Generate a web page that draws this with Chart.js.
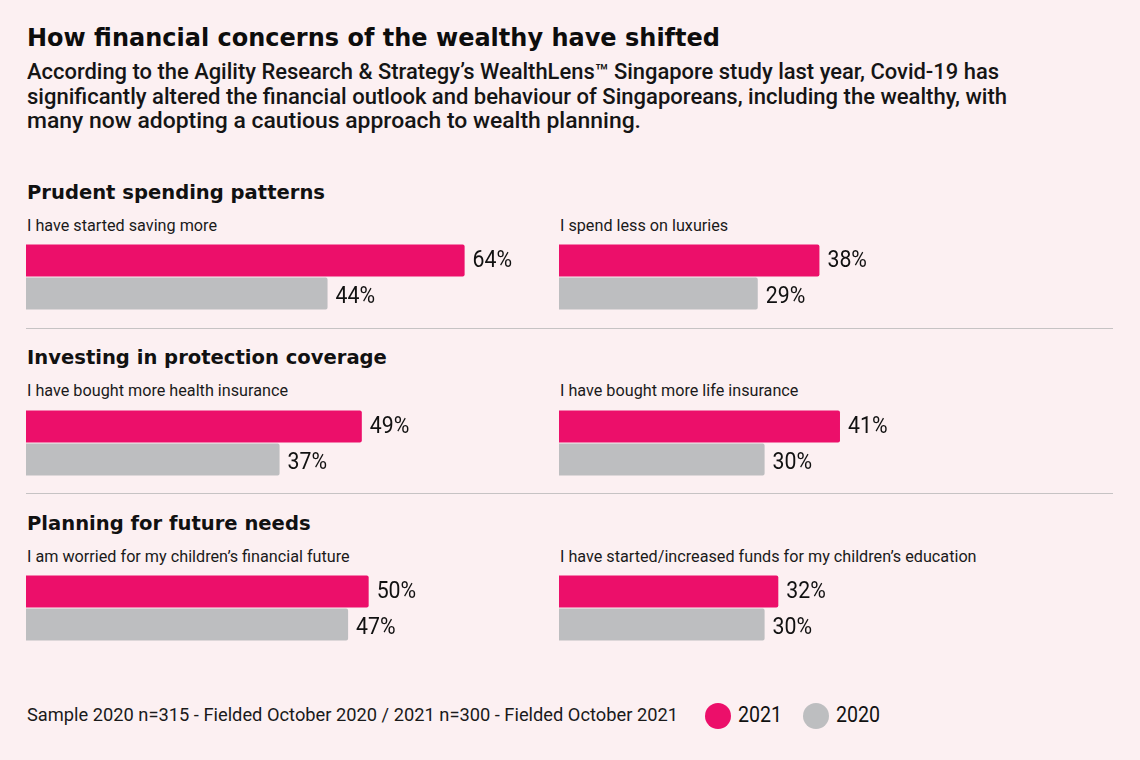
<!DOCTYPE html>
<html>
<head>
<meta charset="utf-8">
<script src="https://cdn.jsdelivr.net/npm/chart.js@4"></script>
<style>
html,body{margin:0;padding:0;width:1140px;height:760px;overflow:hidden;background:#fcf0f2}
body{position:relative;color:#111;font-family:Roboto,"Noto Sans",sans-serif}
.t{position:absolute;white-space:nowrap;line-height:1;transform-origin:0 0;display:inline-block}
#title{left:27px;top:25px;font-weight:700;font-size:25px;font-family:"DejaVu Sans",sans-serif;color:#0d0d0d}
.sl{left:27px;font-weight:500;font-size:21.5px;font-family:Roboto,sans-serif;color:#151515}
.head{font-weight:700;font-size:19.5px;font-family:"DejaVu Sans",sans-serif;color:#111}
.cat{font-size:17px;font-family:Roboto,sans-serif;color:#1a1a1a}
.sep{position:absolute;left:26px;width:1087px;height:0;border-top:1.5px solid #c6c3c4}
canvas{position:absolute}
.foot{font-size:17.5px;font-family:Roboto,sans-serif;color:#1a1a1a}
.dot{position:absolute;width:26px;height:26px;border-radius:50%}
.leg{font-size:22px;font-family:Roboto,sans-serif;color:#111}
</style>
</head>
<body>
<div id="root"></div>
<script>
// ---- data ----
const titleText = "How financial concerns of the wealthy have shifted";
const subtitleLines = [
  "According to the Agility Research & Strategy\u2019s WealthLens\u2122 Singapore study last year, Covid-19 has",
  "significantly altered the financial outlook and behaviour of Singaporeans, including the wealthy, with",
  "many now adopting a cautious approach to wealth planning."
];
const sections = ["Prudent spending patterns", "Investing in protection coverage", "Planning for future needs"];
const categories = [
  "I have started saving more",
  "I spend less on luxuries",
  "I have bought more health insurance",
  "I have bought more life insurance",
  "I am worried for my children\u2019s financial future",
  "I have started/increased funds for my children\u2019s education"
];
const seriesNames = ["2021", "2020"];
const values2021 = [64, 38, 49, 41, 50, 32];
const values2020 = [44, 29, 37, 30, 47, 30];
const footnote = "Sample 2020 n=315 - Fielded October 2020 / 2021 n=300 - Fielded October 2021";

// ---- styles ----
const PINK = "#ec0f6a", GREY = "#bdbec0";
const LEFT_X = [26, 559];
const SEC_Y0 = 244, SEC_STEP = 165.5;
const CHART_W = 514, CHART_H = 66, X_MAX = 75;
const VAL_FONT = "23px Roboto, sans-serif";
const VAL_REF = { text: "64%", width: 39.5 };
const VAL_DY = [1, 4];

const root = document.getElementById('root');
const fits = [];
function addDiv(cls, text, left, top, fitWidth) {
  const d = document.createElement('div');
  d.className = 't ' + cls; d.textContent = text;
  d.style.left = left + 'px'; d.style.top = top + 'px';
  root.appendChild(d);
  if (fitWidth) fits.push([d, fitWidth]);
  return d;
}

function valueLabels() {
  return {
    id: 'valueLabels',
    afterDatasetsDraw(chart) {
      const ctx = chart.ctx;
      ctx.save();
      ctx.font = VAL_FONT;
      const sx = VAL_REF.width / ctx.measureText(VAL_REF.text).width;
      ctx.fillStyle = '#111';
      ctx.textBaseline = 'middle';
      ctx.textAlign = 'left';
      chart.data.datasets.forEach((ds, di) => {
        chart.getDatasetMeta(di).data.forEach((bar, j) => {
          ctx.save();
          ctx.translate(bar.x + 8, bar.y + VAL_DY[di]);
          ctx.scale(sx, 1);
          ctx.fillText(ds.data[j] + '%', 0, 0);
          ctx.restore();
        });
      });
      ctx.restore();
    }
  };
}

// title
const titleEl = addDiv('', titleText, 27, 25); titleEl.id = 'title';
fits.push([titleEl, 693]);
// subtitle
const subTops = [61, 85.5, 110];
const subW = [972, 980, 614];
subtitleLines.forEach((l, i) => addDiv('sl', l, 27, subTops[i], subW[i]));

const headEls = [], catEls = [];
sections.forEach((s, si) => {
  const barTop = SEC_Y0 + si * SEC_STEP;
  headEls.push(addDiv('head', s, 27, barTop - 61.5));
  if (si > 0) {
    const sep = document.createElement('div');
    sep.className = 'sep'; sep.style.top = (barTop - 82) + 'px';
    root.appendChild(sep);
  }
  for (let c = 0; c < 2; c++) {
    const idx = si * 2 + c;
    catEls.push(addDiv('cat', categories[idx], LEFT_X[c] + 1, barTop - 27.5));
    const cv = document.createElement('canvas');
    cv.style.left = LEFT_X[c] + 'px';
    cv.style.top = barTop + 'px';
    cv.style.width = (CHART_W + 80) + 'px';
    cv.style.height = CHART_H + 'px';
    cv.width = CHART_W + 80; cv.height = CHART_H;
    root.appendChild(cv);
    new Chart(cv, {
      type: 'bar',
      data: {
        labels: [categories[idx]],
        datasets: [
          { label: seriesNames[0], data: [values2021[idx]], backgroundColor: PINK },
          { label: seriesNames[1], data: [values2020[idx]], backgroundColor: GREY }
        ]
      },
      options: {
        indexAxis: 'y',
        responsive: false,
        animation: false,
        layout: { padding: { left: 0, right: 80, top: 0, bottom: 0 } },
        datasets: { bar: { categoryPercentage: 1, barPercentage: 0.97, borderRadius: 2, borderSkipped: 'left' } },
        scales: {
          x: { display: false, min: 0, max: X_MAX },
          y: { display: false }
        },
        plugins: { legend: { display: false }, tooltip: { enabled: false } }
      },
      plugins: [valueLabels()]
    });
  }
});

// footer + legend
addDiv('foot', footnote, 27, 707, 651);
const dot1 = document.createElement('div'); dot1.className = 'dot'; dot1.style.background = PINK; dot1.style.left = '705px'; dot1.style.top = '703px'; root.appendChild(dot1);
const leg1 = addDiv('leg', seriesNames[0], 738, 704);
const dot2 = document.createElement('div'); dot2.className = 'dot'; dot2.style.background = GREY; dot2.style.left = '803px'; dot2.style.top = '703px'; root.appendChild(dot2);
const leg2 = addDiv('leg', seriesNames[1], 836, 704);

function applyFits() {
  fits.forEach(([el, w]) => {
    el.style.transform = 'none';
    const nat = el.getBoundingClientRect().width;
    el.style.transform = 'scaleX(' + (w / nat) + ')';
  });
  const groupFit = (els, refIdx, w) => {
    els.forEach(e => e.style.transform = 'none');
    const s = w / els[refIdx].getBoundingClientRect().width;
    els.forEach(e => e.style.transform = 'scaleX(' + s + ')');
  };
  groupFit(headEls, 0, 298);
  groupFit(catEls, 0, 190);
  groupFit([leg1, leg2], 0, 44);
}
applyFits();
if (document.fonts && document.fonts.ready) document.fonts.ready.then(applyFits);
</script>
</body>
</html>
